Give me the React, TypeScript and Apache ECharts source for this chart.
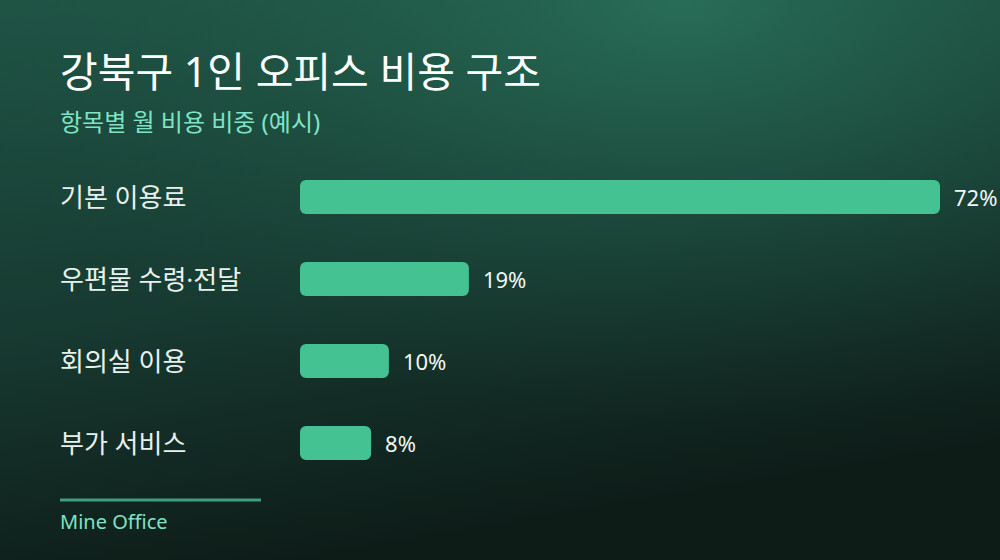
import { useEffect, useRef } from "react";
import * as echarts from "echarts";

const categories = ["기본 이용료", "우편물 수령·전달", "회의실 이용", "부가 서비스"];
const shares = [72, 19, 10, 8];

const FONT = "'Noto Sans', 'Noto Sans CJK KR', sans-serif";
const BAR = "#45c292";
const MINT = "#7fe3c4";

const App = () => {
  const chartRef = useRef<HTMLDivElement | null>(null);

  useEffect(() => {
    if (!chartRef.current) {
      return;
    }
    const instance = echarts.init(chartRef.current, undefined, {
      renderer: "svg",
    });

    const option: echarts.EChartsOption = {
      animation: false,
      backgroundColor: new echarts.graphic.LinearGradient(0, 0, 0.3, 1, [
        { offset: 0, color: "#1f5445" },
        { offset: 0.55, color: "#173a31" },
        { offset: 1, color: "#0e1c18" },
      ]),
      textStyle: { fontFamily: FONT },
      graphic: [
        {
          type: "rect",
          z: -10,
          silent: true,
          shape: { x: 0, y: 0, width: 1000, height: 560 },
          style: {
            fill: new echarts.graphic.RadialGradient(0.68, 0, 0.75, [
              { offset: 0, color: "rgba(44,120,96,0.75)" },
              { offset: 0.6, color: "rgba(36,100,80,0.25)" },
              { offset: 1, color: "rgba(30,80,65,0)" },
            ]),
          },
        },
        {
          type: "text",
          left: 60,
          top: 50,
          style: {
            text: "강북구 1인 오피스 비용 구조",
            fill: "#ffffff",
            font: `41px ${FONT}`,
          },
        },
        {
          type: "text",
          left: 60,
          top: 109,
          style: {
            text: "항목별 월 비용 비중 (예시)",
            fill: MINT,
            font: `24px ${FONT}`,
          },
        },
        {
          type: "line",
          shape: { x1: 60, y1: 500, x2: 261, y2: 500 },
          style: { stroke: "#3f9e7c", lineWidth: 3 },
        },
        {
          type: "text",
          left: 60,
          top: 511,
          style: {
            text: "Mine Office",
            fill: MINT,
            font: `20px ${FONT}`,
          },
        },
      ],
      grid: {
        left: 300,
        right: 60,
        top: 156,
        bottom: 76,
      },
      xAxis: {
        type: "value",
        min: 0,
        max: 72,
        show: false,
      },
      yAxis: {
        type: "category",
        data: categories,
        inverse: true,
        axisLine: { show: false },
        axisTick: { show: false },
        splitLine: { show: false },
        axisLabel: {
          align: "left",
          margin: 240,
          color: "#e8f1ed",
          fontSize: 26,
          fontFamily: FONT,
          padding: [0, 0, 10, 0],
        },
      },
      series: [
        {
          type: "bar",
          data: shares,
          barWidth: 34,
          itemStyle: { color: BAR, borderRadius: 6 },
          label: {
            show: true,
            position: "right",
            distance: 14,
            formatter: "{c}%",
            color: "#f2f7f5",
            fontSize: 22,
            fontFamily: FONT,
            padding: [0, 0, 3, 0],
          },
        },
      ],
    };

    instance.setOption(option);

    return () => {
      instance.dispose();
    };
  }, []);

  return (
    <div
      ref={chartRef}
      style={{ position: "absolute", left: 0, top: 0, width: 1000, height: 560 }}
    />
  );
};

export default App;
